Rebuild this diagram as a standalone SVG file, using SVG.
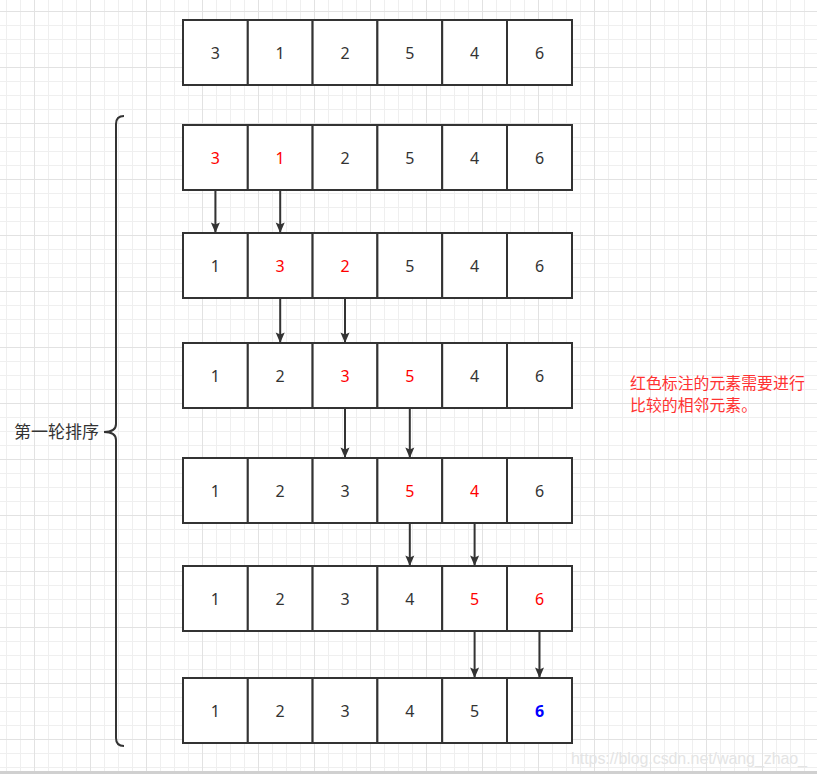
<svg xmlns="http://www.w3.org/2000/svg" width="817" height="774" viewBox="0 0 817 774">
<defs>
<pattern id="grid" x="34" y="11" width="56" height="56" patternUnits="userSpaceOnUse">
<rect x="0" y="0" width="56" height="56" fill="#ffffff"/>
<g fill="#efefef">
<rect x="14" y="0" width="1" height="56"/><rect x="28" y="0" width="1" height="56"/><rect x="42" y="0" width="1" height="56"/>
<rect x="0" y="14" width="56" height="1"/><rect x="0" y="28" width="56" height="1"/><rect x="0" y="42" width="56" height="1"/>
</g>
<g fill="#e2e2e2">
<rect x="0" y="0" width="1" height="56"/><rect x="0" y="0" width="56" height="1"/>
</g>
</pattern>
<marker id="arr" markerUnits="userSpaceOnUse" markerWidth="12" markerHeight="12" viewBox="0 0 12 12" refX="11" refY="6" orient="auto">
<path d="M0.5 1.5 L11 6 L0.5 10.5 L2.5 6 Z" fill="#333333"/>
</marker>
</defs>
<style>
.cell{fill:#ffffff;stroke:#333333;stroke-width:2}
.num{font-family:"Noto Sans","Liberation Sans",sans-serif;font-size:16px;fill:#333333;text-anchor:middle;dominant-baseline:central}
.red{fill:#ff0000}
.blue{fill:#0000ff;font-weight:bold}
.conn{stroke:#333333;stroke-width:2;fill:none}
</style>
<rect width="817" height="774" fill="url(#grid)"/>
<rect x="0" y="771" width="817" height="3" fill="#d0d0d0"/>

<g id="row0">
<rect class="cell" x="183" y="20" width="64.8" height="65"/><rect class="cell" x="247.8" y="20" width="64.8" height="65"/><rect class="cell" x="312.6" y="20" width="64.8" height="65"/><rect class="cell" x="377.4" y="20" width="64.8" height="65"/><rect class="cell" x="442.2" y="20" width="64.8" height="65"/><rect class="cell" x="507" y="20" width="65" height="65"/>
<text class="num" x="215.4" y="53">3</text><text class="num" x="280.2" y="53">1</text><text class="num" x="345" y="53">2</text><text class="num" x="409.8" y="53">5</text><text class="num" x="474.6" y="53">4</text><text class="num" x="539.5" y="53">6</text>
</g>

<g id="row1">
<rect class="cell" x="183" y="125" width="64.8" height="65"/><rect class="cell" x="247.8" y="125" width="64.8" height="65"/><rect class="cell" x="312.6" y="125" width="64.8" height="65"/><rect class="cell" x="377.4" y="125" width="64.8" height="65"/><rect class="cell" x="442.2" y="125" width="64.8" height="65"/><rect class="cell" x="507" y="125" width="65" height="65"/>
<text class="num red" x="215.4" y="158">3</text><text class="num red" x="280.2" y="158">1</text><text class="num" x="345" y="158">2</text><text class="num" x="409.8" y="158">5</text><text class="num" x="474.6" y="158">4</text><text class="num" x="539.5" y="158">6</text>
</g>

<g id="row2">
<rect class="cell" x="183" y="233" width="64.8" height="65"/><rect class="cell" x="247.8" y="233" width="64.8" height="65"/><rect class="cell" x="312.6" y="233" width="64.8" height="65"/><rect class="cell" x="377.4" y="233" width="64.8" height="65"/><rect class="cell" x="442.2" y="233" width="64.8" height="65"/><rect class="cell" x="507" y="233" width="65" height="65"/>
<text class="num" x="215.4" y="266">1</text><text class="num red" x="280.2" y="266">3</text><text class="num red" x="345" y="266">2</text><text class="num" x="409.8" y="266">5</text><text class="num" x="474.6" y="266">4</text><text class="num" x="539.5" y="266">6</text>
</g>

<g id="row3">
<rect class="cell" x="183" y="343" width="64.8" height="65"/><rect class="cell" x="247.8" y="343" width="64.8" height="65"/><rect class="cell" x="312.6" y="343" width="64.8" height="65"/><rect class="cell" x="377.4" y="343" width="64.8" height="65"/><rect class="cell" x="442.2" y="343" width="64.8" height="65"/><rect class="cell" x="507" y="343" width="65" height="65"/>
<text class="num" x="215.4" y="376">1</text><text class="num" x="280.2" y="376">2</text><text class="num red" x="345" y="376">3</text><text class="num red" x="409.8" y="376">5</text><text class="num" x="474.6" y="376">4</text><text class="num" x="539.5" y="376">6</text>
</g>

<g id="row4">
<rect class="cell" x="183" y="458" width="64.8" height="65"/><rect class="cell" x="247.8" y="458" width="64.8" height="65"/><rect class="cell" x="312.6" y="458" width="64.8" height="65"/><rect class="cell" x="377.4" y="458" width="64.8" height="65"/><rect class="cell" x="442.2" y="458" width="64.8" height="65"/><rect class="cell" x="507" y="458" width="65" height="65"/>
<text class="num" x="215.4" y="491">1</text><text class="num" x="280.2" y="491">2</text><text class="num" x="345" y="491">3</text><text class="num red" x="409.8" y="491">5</text><text class="num red" x="474.6" y="491">4</text><text class="num" x="539.5" y="491">6</text>
</g>

<g id="row5">
<rect class="cell" x="183" y="566" width="64.8" height="65"/><rect class="cell" x="247.8" y="566" width="64.8" height="65"/><rect class="cell" x="312.6" y="566" width="64.8" height="65"/><rect class="cell" x="377.4" y="566" width="64.8" height="65"/><rect class="cell" x="442.2" y="566" width="64.8" height="65"/><rect class="cell" x="507" y="566" width="65" height="65"/>
<text class="num" x="215.4" y="599">1</text><text class="num" x="280.2" y="599">2</text><text class="num" x="345" y="599">3</text><text class="num" x="409.8" y="599">4</text><text class="num red" x="474.6" y="599">5</text><text class="num red" x="539.5" y="599">6</text>
</g>

<g id="row6">
<rect class="cell" x="183" y="678" width="64.8" height="65"/><rect class="cell" x="247.8" y="678" width="64.8" height="65"/><rect class="cell" x="312.6" y="678" width="64.8" height="65"/><rect class="cell" x="377.4" y="678" width="64.8" height="65"/><rect class="cell" x="442.2" y="678" width="64.8" height="65"/><rect class="cell" x="507" y="678" width="65" height="65"/>
<text class="num" x="215.4" y="711">1</text><text class="num" x="280.2" y="711">2</text><text class="num" x="345" y="711">3</text><text class="num" x="409.8" y="711">4</text><text class="num" x="474.6" y="711">5</text><text class="num blue" x="539.5" y="711">6</text>
</g>

<g id="connectors">
<path class="conn" d="M215.4 190 V233" marker-end="url(#arr)"/>
<path class="conn" d="M280.2 190 V233" marker-end="url(#arr)"/>
<path class="conn" d="M280.2 298 V343" marker-end="url(#arr)"/>
<path class="conn" d="M345 298 V343" marker-end="url(#arr)"/>
<path class="conn" d="M345 408 V458" marker-end="url(#arr)"/>
<path class="conn" d="M409.8 408 V458" marker-end="url(#arr)"/>
<path class="conn" d="M409.8 523 V566" marker-end="url(#arr)"/>
<path class="conn" d="M474.6 523 V566" marker-end="url(#arr)"/>
<path class="conn" d="M474.6 631 V678" marker-end="url(#arr)"/>
<path class="conn" d="M539.5 631 V678" marker-end="url(#arr)"/>
</g>

<g id="brace">
<path class="conn" d="M124 116 Q116 116 116 124 L116 424 Q116 432 104 432 Q116 432 116 440 L116 738 Q116 746 124 746"/>
<text x="14" y="438" font-family="'Noto Sans CJK SC',sans-serif" font-size="17" fill="#333333">第一轮排序</text>
</g>

<g id="note">
<text font-family="'Noto Sans CJK SC',sans-serif" font-size="15.9" fill="#ff3333"><tspan x="630" y="389">红色标注的元素需要进行</tspan><tspan x="630" y="411">比较的相邻元素。</tspan></text>
</g>

<text x="571" y="764" font-family="'Liberation Sans',sans-serif" font-size="16" fill="#e4e4e4" textLength="236">https://blog.csdn.net/wang_zhao_</text>
</svg>
